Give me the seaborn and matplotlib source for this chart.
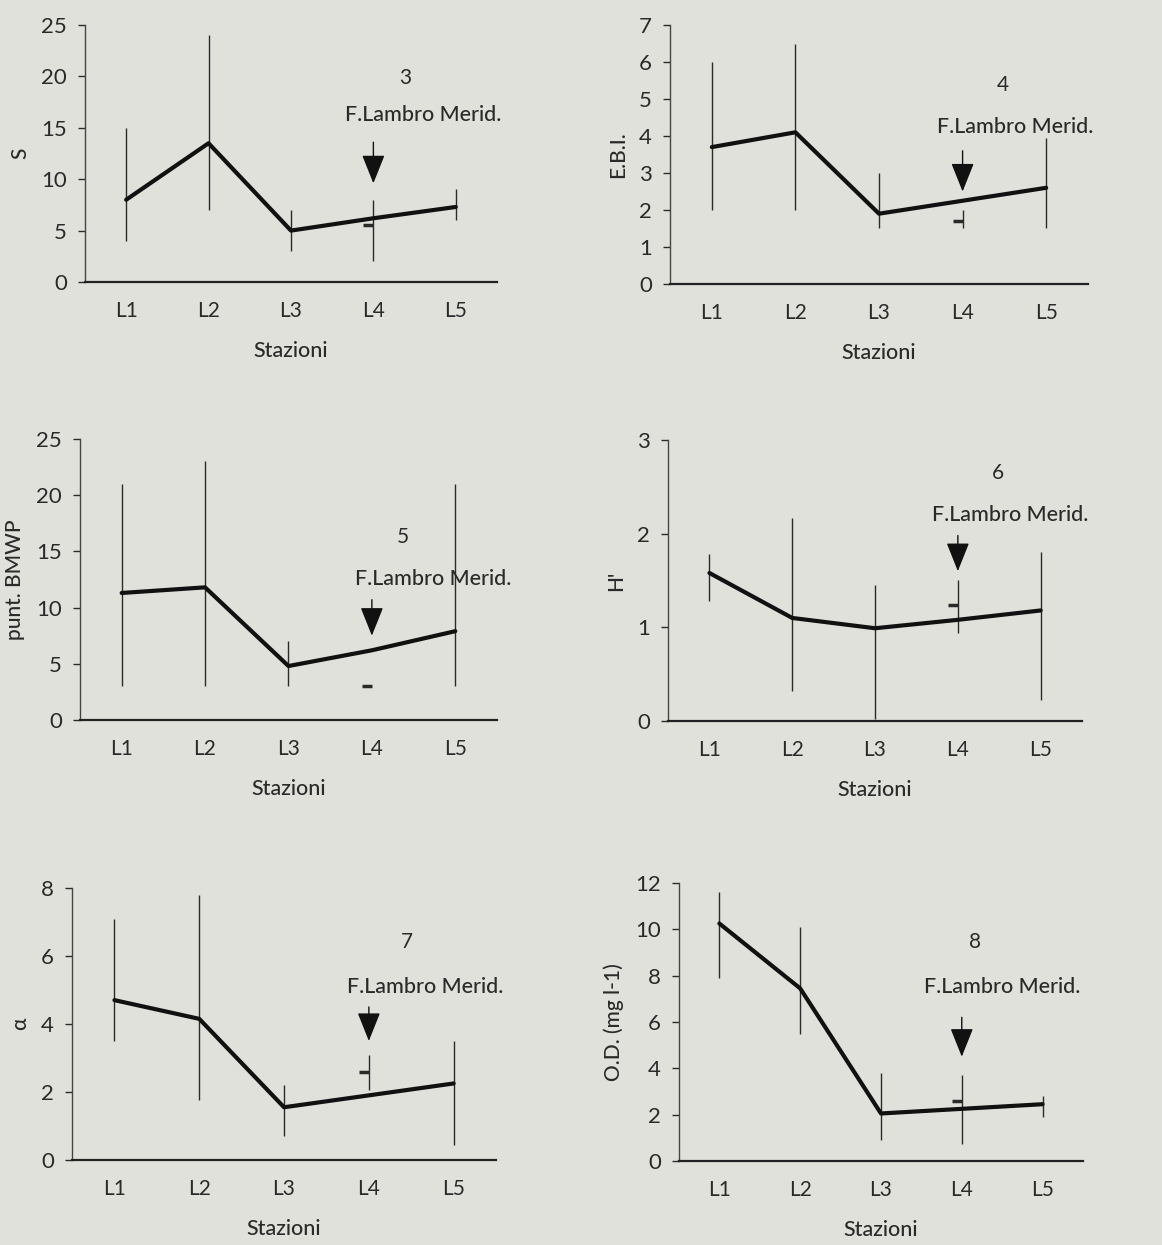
import numpy as np
import pandas as pd
import matplotlib
matplotlib.use("Agg")
import matplotlib.pyplot as plt
import seaborn as sns

sns.set_theme(style="ticks")
plt.rcParams["font.family"] = ["Lato", "DejaVu Sans"]

BG = "#e1e1dc"
INK = "#2a2a2a"

stations = ["L1", "L2", "L3", "L4", "L5"]

# panel 3 - S
s_mean = [8.0, 13.5, 5.0, 6.2, 7.3]
s_lo = [4.0, 7.0, 3.0, 2.0, 6.0]
s_hi = [15.0, 24.0, 7.0, 8.0, 9.0]
s_mark = 5.5

# panel 4 - E.B.I.
ebi_mean = [3.7, 4.1, 1.9, 2.25, 2.6]
ebi_lo = [2.0, 2.0, 1.5, 1.5, 1.5]
ebi_hi = [6.0, 6.5, 3.0, 2.0, 3.95]
ebi_mark = 1.7

# panel 5 - punt. BMWP
bmwp_mean = [11.3, 11.8, 4.8, 6.2, 7.9]
bmwp_lo = [3.0, 3.0, 3.0, np.nan, 3.0]
bmwp_hi = [21.0, 23.0, 7.0, np.nan, 21.0]
bmwp_mark = 3.0

# panel 6 - H'
h_mean = [1.58, 1.1, 0.99, 1.08, 1.18]
h_lo = [1.28, 0.32, 0.02, 0.94, 0.22]
h_hi = [1.78, 2.17, 1.45, 1.5, 1.8]
h_mark = 1.24

# panel 7 - alpha
a_mean = [4.7, 4.15, 1.55, 1.9, 2.25]
a_lo = [3.5, 1.75, 0.7, 2.05, 0.45]
a_hi = [7.1, 7.8, 2.2, 3.1, 3.5]
a_mark = 2.6

# panel 8 - O.D.
od_mean = [10.25, 7.45, 2.05, 2.25, 2.45]
od_lo = [7.9, 5.5, 0.9, 0.75, 1.9]
od_hi = [11.6, 10.1, 3.8, 3.7, 2.8]
od_mark = 2.6

panel_ids = ["3", "4", "5", "6", "7", "8"]
ylabels = ["S", "E.B.I.", "punt. BMWP", "H'", "α", "O.D. (mg l-1)"]
ymax = [25, 7, 25, 3, 8, 12]
ystep = [5, 1, 5, 1, 2, 2]
# arrow (top, tip) in data units above L4
arrow_top = [13.6, 3.6, 10.7, 1.98, 4.5, 6.2]
arrow_tip = [9.6, 2.5, 7.5, 1.6, 3.5, 4.5]

panels = [
    (s_mean, s_lo, s_hi, s_mark),
    (ebi_mean, ebi_lo, ebi_hi, ebi_mark),
    (bmwp_mean, bmwp_lo, bmwp_hi, bmwp_mark),
    (h_mean, h_lo, h_hi, h_mark),
    (a_mean, a_lo, a_hi, a_mark),
    (od_mean, od_lo, od_hi, od_mark),
]

# layout: axes rectangles in figure fraction, text positions in axes fraction
rects = [
    [0.0731, 0.7735, 0.3546, 0.2064],
    [0.5766, 0.7719, 0.3597, 0.2080],
    [0.0688, 0.4217, 0.3589, 0.2257],
    [0.5749, 0.4209, 0.3563, 0.2257],
    [0.0620, 0.0683, 0.3649, 0.2185],
    [0.5843, 0.0675, 0.3477, 0.2233],
]
num_pos = [(0.777, 0.794), (0.797, 0.768), (0.775, 0.651),
           (0.797, 0.883), (0.790, 0.800), (0.733, 0.788)]
lab_pos = [(0.820, 0.650), (0.825, 0.606), (0.847, 0.502),
           (0.826, 0.733), (0.833, 0.636), (0.800, 0.626)]

fig = plt.figure(figsize=(11.62, 12.45), dpi=100)
fig.patch.set_facecolor(BG)

for i, (mean, lo, hi, mark) in enumerate(panels):
    ax = fig.add_axes(rects[i])
    ax.set_facecolor(BG)
    df = pd.DataFrame({"Stazioni": stations, "val": mean, "lo": lo, "hi": hi})

    ax.vlines(np.arange(len(stations)), df["lo"], df["hi"], color=INK, lw=1.0)
    sns.lineplot(data=df, x="Stazioni", y="val", ax=ax, color="#111111",
                 lw=3.0, sort=False)
    x4 = stations.index("L4")
    ax.plot([x4], [mark], marker=0, ms=7, mew=2.5, color=INK, ls="none")

    ax.annotate("", xy=(x4, arrow_tip[i]), xytext=(x4, arrow_top[i]),
                arrowprops=dict(arrowstyle="-|>,head_width=0.6,head_length=1.5",
                                color="#111111", lw=1.0, shrinkA=0, shrinkB=0))
    ax.text(*num_pos[i], panel_ids[i], transform=ax.transAxes, ha="center",
            va="center", fontsize=15, color=INK)
    ax.text(*lab_pos[i], "F.Lambro Merid.", transform=ax.transAxes, ha="center",
            va="center", fontsize=15.5, fontweight="medium", color=INK)

    ax.set_xlim(-0.5, 4.5)
    ax.set_ylim(0, ymax[i])
    ax.set_yticks(np.arange(0, ymax[i] + 0.01, ystep[i]))
    ax.set_xticks(range(len(stations)))
    ax.set_xticklabels(stations)
    ax.tick_params(axis="x", length=0, pad=14, labelsize=15, colors=INK)
    ax.tick_params(axis="y", length=5, width=1, pad=8, labelsize=16, colors=INK)
    ax.set_xlabel("Stazioni", fontsize=15.5, fontweight="medium", color=INK,
                  labelpad=14)
    ax.set_ylabel(ylabels[i], fontsize=15, fontweight="medium", color=INK,
                  labelpad=8)
    for side in ["top", "right"]:
        ax.spines[side].set_visible(False)
    ax.spines["left"].set_color("#444444")
    ax.spines["left"].set_linewidth(1.0)
    ax.spines["bottom"].set_color("#222222")
    ax.spines["bottom"].set_linewidth(1.6)

fig.savefig("out.png", dpi=100, facecolor=BG)
